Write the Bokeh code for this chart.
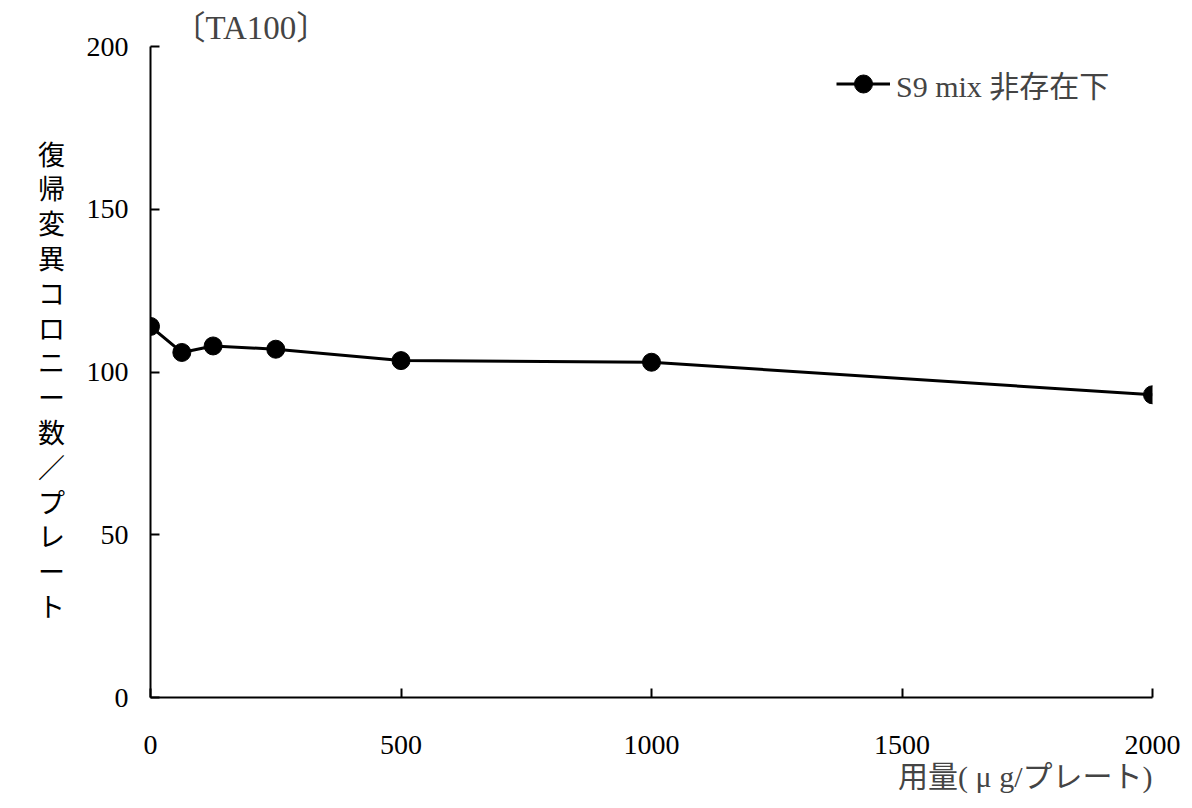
from bokeh.plotting import figure
from bokeh.models import Legend, LegendItem, Range1d, FixedTicker, Title
from bokeh.layouts import row
from bokeh.core.properties import value
from bokeh.embed import file_html
from bokeh.resources import INLINE

# ---- data ----
doses = [0, 62.5, 125, 250, 500, 1000, 2000]
colonies = [114, 106, 108, 107, 103.5, 103, 93]
series_name = "S9 mix 非存在下"
x_ticks = [0, 500, 1000, 1500, 2000]
y_ticks = [0, 50, 100, 150, 200]
title_text = "〔TA100〕"
x_label = "用量( μ g/プレート)"
y_label = "復帰変異コロニー数／プレート"

SERIF = "Liberation Serif, Noto Sans CJK JP"
TOP, BOTTOM = 46, 103
FRAME_H = 800 - TOP - BOTTOM

p = figure(width=1114, height=800, output_backend="svg", toolbar_location=None,
           x_range=Range1d(0, 2000), y_range=Range1d(0, 200),
           min_border_left=80, min_border_right=32, min_border_top=TOP, min_border_bottom=BOTTOM)
p.outline_line_color = None
p.grid.visible = False

for ax in (p.xaxis[0], p.yaxis[0]):
    ax.axis_line_color = "black"
    ax.axis_line_width = 2
    ax.major_tick_in = 9
    ax.major_tick_out = 0
    ax.major_tick_line_width = 2
    ax.major_tick_line_color = "black"
    ax.minor_tick_line_color = None
    ax.major_label_text_font = "Liberation Serif"
    ax.major_label_text_font_size = "28px"
    ax.major_label_text_color = "black"

p.xaxis[0].ticker = FixedTicker(ticks=x_ticks)
p.yaxis[0].ticker = FixedTicker(ticks=y_ticks)
p.xaxis[0].major_label_standoff = 38
p.yaxis[0].major_label_standoff = 22

line = p.line(doses, colonies, line_color="black", line_width=3)
pts = p.scatter(doses, colonies, size=18, fill_color="black", line_color="black")

legend = Legend(items=[LegendItem(label=series_name, renderers=[line, pts])],
                location=(686, 591), border_line_color=None, background_fill_alpha=0,
                glyph_width=54, glyph_height=45, padding=0, margin=0, label_standoff=6,
                label_text_font=SERIF, label_text_font_size="30px", label_height=45)
p.add_layout(legend)

# title (top-left, above frame)
p.title.text = title_text
p.title.align = "left"
p.title.offset = 22
p.title.standoff = 2
p.title.text_font = SERIF
p.title.text_font_size = "33px"
p.title.text_font_style = "normal"

# x axis label (below, right aligned)
p.add_layout(Title(text=x_label, align="right", text_font=SERIF, text_font_size="30px",
                   text_font_style="normal", standoff=2), "below")

# y axis label: vertically stacked characters in a narrow side figure
side = figure(width=70, height=800, output_backend="svg", toolbar_location=None,
              x_range=Range1d(0, 70), y_range=p.y_range,
              min_border_left=0, min_border_right=0, min_border_top=TOP, min_border_bottom=BOTTOM,
              x_axis_location=None, y_axis_location=None)
side.outline_line_color = None
side.grid.visible = False
chars = list(y_label)
ys = [(697 - (155 + i * 34.8)) * 200 / FRAME_H for i in range(len(chars))]
side.text(x=[51] * len(chars), y=ys, text=chars, text_font=value(SERIF),
          text_font_size=value("27px"), text_align="center", text_baseline="middle",
          text_color="black")

layout = row(side, p)
open("out.html", "w").write(file_html(layout, INLINE))
